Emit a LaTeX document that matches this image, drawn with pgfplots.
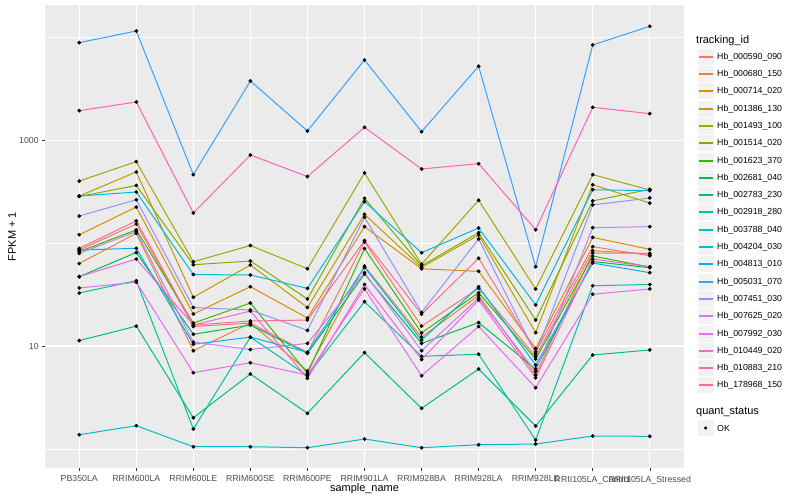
\documentclass[border=0pt]{standalone}
\usepackage{fontspec}
\setmainfont{Liberation Sans}
\usepackage{pgfplots}
\usepackage{pgfplotstable}
\pgfplotsset{compat=1.18}

\definecolor{panel}{HTML}{EBEBEB}
\definecolor{keybg}{HTML}{F2F2F2}
\definecolor{grey30}{HTML}{4D4D4D}
\definecolor{grey20}{HTML}{333333}
\definecolor{c1}{HTML}{F8766D}
\definecolor{c2}{HTML}{EA8331}
\definecolor{c3}{HTML}{D89000}
\definecolor{c4}{HTML}{C09B00}
\definecolor{c5}{HTML}{A3A500}
\definecolor{c6}{HTML}{7CAE00}
\definecolor{c7}{HTML}{39B600}
\definecolor{c8}{HTML}{00BB4E}
\definecolor{c9}{HTML}{00BF7D}
\definecolor{c10}{HTML}{00C1A3}
\definecolor{c11}{HTML}{00BFC4}
\definecolor{c12}{HTML}{00BAE0}
\definecolor{c13}{HTML}{00B0F6}
\definecolor{c14}{HTML}{35A2FF}
\definecolor{c15}{HTML}{9590FF}
\definecolor{c16}{HTML}{C77CFF}
\definecolor{c17}{HTML}{E76BF3}
\definecolor{c18}{HTML}{FA62DB}
\definecolor{c19}{HTML}{FF62BC}
\definecolor{c20}{HTML}{FF6C91}

% FPKM + 1, one row per sample, one column per tracking_id
\pgfplotstableread{
x  s1    s2    s3    s4    s5    s6    s7    s8    s9    s10   s11   s12   s13   s14   s15   s16   s17   s18   s19   s20
0  86.0  63.5  121   288   403   285   82.8  47.3  11.3  32.8  1.370 288   86.0  8950  184   79.8  36.7  47.3  1950  89.3
1  154   125   225   494   622   365   135   81.3  15.6  43.2  1.676 315   89.3  11630 265   129.6 41.7  70.2  2370  165
2  15.5  9.00  20.5  29.8  66.1  61.8  16.7  13.0  2.005 1.556 1.047 49.6  10.4  465   23.7  10.9  5.50  16.0  197   16.0
3  16.7  16.7  37.8  61.4  95.1  67.2  26.2  16.0  5.34  12.2  1.047 49.1  12.2  3794  22.4  9.25  6.88  21.9  722   17.5
4  8.68  5.71  18.7  23.7  56.5  28.7  5.42  8.49  2.213 5.14  1.024 36.4  8.68  1237  14.2  10.6  5.22  4.85  446   17.9
5  103   60.0  145   191   483   274   88.9  50.2  8.61  27.0  1.244 254   58.3  6073  179   51.7  36.0  39.7  1344  106
6  15.6  12.2  56.4  58.3  62.5  60.3  13.4  10.6  2.476 7.94  1.024 80.9  11.4  1218  21.2  9.00  5.14  7.39  528   20.4
7  36.4  31.0  53.3  120   262   126.7 33.0  16.9  5.97  8.32  1.095 140.7 37.8  5275  110   29.3  15.5  28.0  595   71.4
8  7.90  5.22  9.46  13.5  35.9  17.9  7.47  5.97  1.665 1.217 1.112 25.1  6.53  59.1  8.36  5.65  3.93  4.91  135.5 8.80
9  84.6  80.4  114   371   465   258   75.1  66.4  8.18  38.6  1.331 332   64.2  8500  236   141.7 31.9  70.2  2104  92.6
10 78.6  79.8  87.3  246   330   335   58.7  57.8  9.15  39.7  1.322 325   51.7  12920 276   145   35.9  59.1  1823  75.6
}\fpkm

\begin{document}
\begin{tikzpicture}[x=1bp,y=1bp]
\path[use as bounding box, fill=white] (-45,-32) rectangle (755,468);
\begin{axis}[
  at={(0,0)}, anchor=south west,
  scale only axis, width=639bp, height=463bp,
  xmin=-0.6, xmax=10.6,
  ymode=log, ymin=0.65, ymax=20830,
  axis background/.style={fill=panel},
  axis line style={draw=none},
  xtick={0,...,10},
  xticklabels={PB350LA,RRIM600LA,RRIM600LE,RRIM600SE,RRIM600PE,RRIM901LA,RRIM928BA,RRIM928LA,RRIM928LE,RRII105LA\_Control,RRII105LA\_Stressed},
  ytick={10,1000}, yticklabels={10,1000},
  minor ytick={1,100,10000},
  grid=both,
  major grid style={white, line width=1.07bp},
  minor grid style={white, line width=0.53bp},
  tick align=outside, tick pos=left,
  major tick length=2.75bp, minor tick length=0pt,
  tick style={grey20, line width=0.5bp},
  ticklabel style={font=\fontsize{8.8}{9}\selectfont, text=grey30},
  xticklabel style={yshift=-1.5bp},
  /pgf/number format/assume math mode=true,
]
\pgfplotsinvokeforeach{1,...,20}{
  \addplot[no marks, color=c#1, line width=1bp] table[x=x, y=s#1] {\fpkm};
}
\pgfplotsinvokeforeach{1,...,20}{
  \addplot[only marks, mark=*, mark size=1.7bp, black] table[x=x, y=s#1] {\fpkm};
}
\end{axis}

\node[font=\fontsize{11}{11}\selectfont] at (319.5,-21) {sample\_name};
\node[rotate=90, font=\fontsize{11}{11}\selectfont] at (-33,231.5) {FPKM + 1};

% legend: tracking_id
\node[anchor=west, inner sep=0pt, font=\fontsize{11}{11}\selectfont] at (651,427) {tracking\_id};
\foreach \n/\col [count=\i from 0] in {
  Hb\_000590\_090/c1, Hb\_000680\_150/c2, Hb\_000714\_020/c3, Hb\_001386\_130/c4,
  Hb\_001493\_100/c5, Hb\_001514\_020/c6, Hb\_001623\_370/c7, Hb\_002681\_040/c8,
  Hb\_002783\_230/c9, Hb\_002918\_280/c10, Hb\_003788\_040/c11, Hb\_004204\_030/c12,
  Hb\_004813\_010/c13, Hb\_005031\_070/c14, Hb\_007451\_030/c15, Hb\_007625\_020/c16,
  Hb\_007992\_030/c17, Hb\_010449\_020/c18, Hb\_010883\_210/c19, Hb\_178968\_150/c20} {
  \pgfmathsetmacro\yy{round(411.3-17.3*\i)}
  \filldraw[fill=keybg, draw=white, line width=0.5bp] (652,\yy-8.65) rectangle (669.3,\yy+8.65);
  \fill[color=\col] (653.7,\yy-1) rectangle (667.6,\yy+1);
  \node[anchor=west, inner sep=0pt, font=\fontsize{8.8}{9}\selectfont] at (672,\yy) {\n};
}

% legend: quant_status
\node[anchor=west, inner sep=0pt, font=\fontsize{11}{11}\selectfont] at (651,56.3) {quant\_status};
\filldraw[fill=keybg, draw=white, line width=0.5bp] (652,40-8.65) rectangle (669.3,40+8.65);
\fill[black] (660.6,40) circle (1.7bp);
\node[anchor=west, inner sep=0pt, font=\fontsize{8.8}{9}\selectfont] at (672,40) {OK};
\end{tikzpicture}
\end{document}
